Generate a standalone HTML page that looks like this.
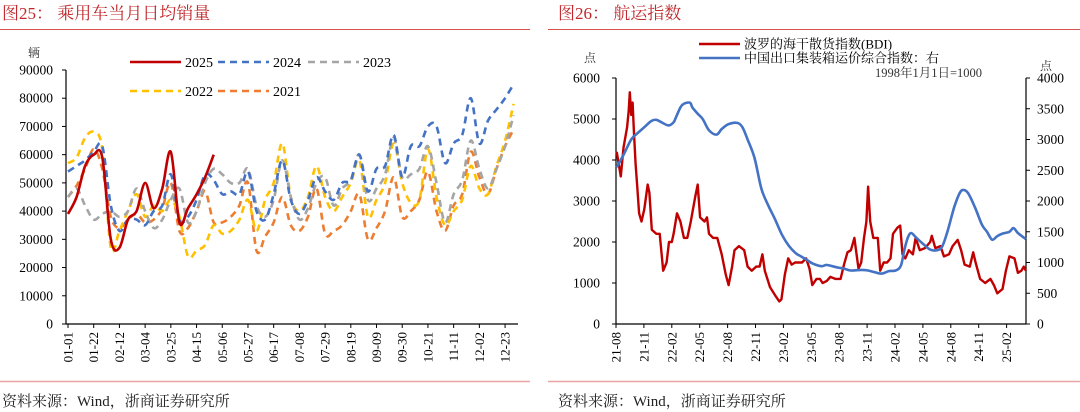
<!DOCTYPE html>
<html><head><meta charset="utf-8">
<style>
html,body{margin:0;padding:0;background:#fff;}
svg{display:block;font-family:"Liberation Serif","Noto Serif CJK SC",serif;}
</style></head>
<body>
<svg id="s" width="1080" height="412" viewBox="0 0 1080 412" xmlns="http://www.w3.org/2000/svg">
<text x="2" y="19" font-size="17" fill="#c0282d">图25：  乘用车当月日均销量</text>
<line x1="0" y1="29.5" x2="530" y2="29.5" stroke="#d9544f" stroke-width="1"/>
<text x="558" y="19" font-size="17" fill="#c0282d">图26：  航运指数</text>
<line x1="548" y1="29.5" x2="1080" y2="29.5" stroke="#d9544f" stroke-width="1"/>
<line x1="0" y1="381.5" x2="530" y2="381.5" stroke="#eba3a3" stroke-width="1.5"/>
<line x1="548" y1="381.5" x2="1080" y2="381.5" stroke="#eba3a3" stroke-width="1.5"/>
<text x="2" y="406" font-size="15" fill="#222">资料来源：Wind，浙商证券研究所</text>
<text x="558" y="406" font-size="15" fill="#222">资料来源：Wind，浙商证券研究所</text>
<g id="L"></g>
<g id="R"></g>
</svg>
<script>
// ---- Left chart data (daily average passenger car sales, weekly) ----
const weekLabels=["01-01","01-22","02-12","03-04","03-25","04-15","05-06","05-27","06-17","07-08","07-29","08-19","09-09","09-30","10-21","11-11","12-02","12-23"];
const leftTicks=[0,10000,20000,30000,40000,50000,60000,70000,80000,90000];
const s2025=[39,45,56,60,59,30,27,37,40,50,41,48,61,36,41,46,52,60];
const s2024=[54,56,58,61,63,42,33,37,37,35,40,42,53,37,38,44,53,51,46,47,46,54,40,37,46,58,44,39,44,52,47,44,50,51,60,47,55,56,67,52,63,63,70,70,57,64,67,80,64,72,76,80,85];
const s2023=[45,48,42,37,39,40,38,40,48,40,34,37,44,48,36,40,50,55,53,50,50,55,42,38,44,58,45,37,41,50,52,42,48,51,60,44,48,53,66,52,53,55,63,50,36,46,51,65,55,48,55,63,74];
const s2022=[57,59,66,68,62,27,33,40,46,38,42,40,44,38,24,26,28,35,32,33,37,44,33,44,50,64,45,40,45,56,45,40,45,50,58,38,44,50,64,50,43,44,62,45,35,40,44,56,48,46,56,65,78];
const s2021=[45,49,55,62,55,38,34,37,39,36,37,41,50,33,34,40,47,36,36,38,42,50,26,31,36,45,35,33,38,48,32,33,35,40,46,30,34,40,52,38,40,44,54,40,33,42,46,61,52,46,55,63,69];

// ---- Right chart data (t = months since 2021-08) ----
const monthLabels=["21-08","21-11","22-02","22-05","22-08","22-11","23-02","23-05","23-08","23-11","24-02","24-05","24-08","24-11","25-02"];
const leftTicksR=[0,1000,2000,3000,4000,5000,6000];
const rightTicksR=[0,500,1000,1500,2000,2500,3000,3500,4000];
const bdiT=[0.07,0.52,0.81,1.19,1.37,1.48,1.63,1.78,1.93,2.11,2.3,2.48,2.74,3.04,3.41,3.59,3.85,4.33,4.7,5.07,5.44,5.7,6.0,6.19,6.56,6.93,7.3,7.67,8.04,8.52,8.78,9.04,9.52,9.78,10.0,10.44,10.89,11.37,11.81,12.11,12.48,12.74,13.22,13.78,14.15,14.59,15.07,15.44,15.74,16.0,16.56,17.11,17.56,17.78,18.15,18.52,18.89,19.26,19.63,20.0,20.44,20.81,21.11,21.56,21.93,22.22,22.67,23.04,23.59,24.15,24.52,24.89,25.26,25.63,25.81,26.07,26.37,26.67,26.93,27.11,27.33,27.67,28.15,28.41,28.78,29.15,29.52,29.78,30.26,30.56,30.81,31.11,31.48,31.93,32.22,32.67,33.22,33.78,33.96,34.33,34.89,35.26,35.81,36.19,36.74,37.11,37.48,38.04,38.41,38.67,39.15,39.7,40.26,40.63,41.0,41.56,41.93,42.3,42.85,43.22,43.59,43.85,44.07];
const bdiV=[4200,3600,4300,4800,5200,5650,5100,5400,4700,3900,3300,2700,2500,2800,3400,3200,2300,2200,2200,1300,1500,2000,2000,2200,2700,2500,2100,2100,2500,3100,3400,2600,2500,2600,2200,2100,2100,1700,1200,950,1400,1800,1900,1800,1400,1300,1400,1400,1700,1300,900,700,550,600,1200,1600,1450,1500,1500,1500,1600,1350,950,1100,1100,1000,1050,1150,1100,1100,1450,1750,1800,2100,1800,1350,1500,2100,2500,3350,2500,2100,2100,1300,1500,1500,1600,2200,2350,2400,1700,1600,1800,1700,2100,1800,1850,2000,2150,1850,1900,1650,1700,1900,2050,1800,1450,1400,1750,1500,1100,1000,1100,950,750,850,1300,1650,1600,1250,1300,1400,1300];
const ccfiT=[0.07,0.81,1.63,2.3,3.04,3.78,4.33,4.89,5.63,6.19,6.56,7.11,7.93,8.22,8.78,9.33,10,10.81,11.37,12.11,13.04,13.59,14.15,14.89,15.63,16.37,17.11,17.85,18.59,19.33,19.89,20.44,21.19,22.11,22.67,23.78,24.52,25.26,26.37,27.11,27.85,28.59,29.33,30.07,30.63,31,31.37,31.74,32.3,33.04,33.78,34.52,35.07,35.63,36.37,36.93,37.3,37.85,38.59,39.33,39.89,40.44,41,41.56,42.3,42.74,43.22,44.07];
const ccfiV=[2550,2750,3000,3100,3200,3300,3320,3280,3230,3280,3400,3560,3600,3520,3420,3330,3150,3080,3170,3250,3270,3200,3000,2700,2200,1930,1700,1450,1270,1150,1100,1050,980,940,960,920,900,870,880,870,840,820,860,870,950,1200,1400,1480,1400,1300,1210,1200,1260,1500,1900,2120,2180,2130,1900,1620,1500,1370,1430,1470,1500,1560,1480,1380];

const NS="http://www.w3.org/2000/svg";
function mk(parent,tag,attrs,text){const e=document.createElementNS(NS,tag);for(const k in attrs)e.setAttribute(k,attrs[k]);if(text!==undefined)e.textContent=text;parent.appendChild(e);return e;}
function smooth(pts){if(pts.length<2)return"";let d="M"+pts[0][0].toFixed(1)+","+pts[0][1].toFixed(1);for(let i=0;i<pts.length-1;i++){const p0=pts[i-1]||pts[i],p1=pts[i],p2=pts[i+1],p3=pts[i+2]||p2;const c1x=p1[0]+(p2[0]-p0[0])/6,c1y=p1[1]+(p2[1]-p0[1])/6,c2x=p2[0]-(p3[0]-p1[0])/6,c2y=p2[1]-(p3[1]-p1[1])/6;d+=" C"+c1x.toFixed(1)+","+c1y.toFixed(1)+" "+c2x.toFixed(1)+","+c2y.toFixed(1)+" "+p2[0].toFixed(1)+","+p2[1].toFixed(1);}return d;}
function poly(pts){return "M"+pts.map(p=>p[0].toFixed(1)+","+p[1].toFixed(1)).join(" L");}

// ---- Left chart ----
const L=document.getElementById('L');
const lx0=66,lwk=8.57,ly0=324,ly1=70,lmax=90000;
const lX=w=>lx0+2+w*lwk;
const lY=v=>ly0-(v/lmax)*(ly0-ly1);
let e;
e=mk(L,'line',{x1:lx0,y1:ly1,x2:lx0,y2:ly0,stroke:'#000','stroke-width':1.2});


e=mk(L,'line',{x1:lx0,y1:ly0,x2:518,y2:ly0,stroke:'#000','stroke-width':1.2});


leftTicks.forEach(v=>{const y=lY(v);
 e=mk(L,'line',{x1:lx0-4,y1:y,x2:lx0,y2:y,stroke:'#000'});
 
 
 e=mk(L,'text',{x:lx0-13,y:y+4.5,'font-size':13.5,'text-anchor':'end',fill:'#000'},String(v));
 
 
});
weekLabels.forEach((lab,i)=>{const x=lX(i*3);
 e=mk(L,'line',{x1:x,y1:ly0,x2:x,y2:ly0+4,stroke:'#000'});
 
 
 e=mk(L,'text',{x:0,y:0,'font-size':13,'text-anchor':'end',transform:`translate(${x+4.5},${ly0+8}) rotate(-90)`},lab);
 
 
});
e=mk(L,'text',{x:28,y:57,'font-size':12,fill:'#333'},'辆');


const lseries=[
 {d:s2021,c:'#ed7d31',dash:'7,5',n:'series-2021'},
 {d:s2022,c:'#ffc000',dash:'7,5',n:'series-2022'},
 {d:s2023,c:'#a5a5a5',dash:'7,5',n:'series-2023'},
 {d:s2024,c:'#4472c4',dash:'7,5',n:'series-2024'},
 {d:s2025,c:'#c00000',dash:'',n:'series-2025'}];
lseries.forEach(s=>{const pts=s.d.map((v,i)=>[lX(i),lY(v*1000)]);
 e=mk(L,'path',{d:smooth(pts),fill:'none',stroke:s.c,'stroke-width':2.6,'stroke-dasharray':s.dash});
 
 
});
const leg=[[130,62,'#c00000','','2025'],[218,62,'#4472c4','7,5','2024'],[308,62,'#a5a5a5','7,5','2023'],[130,91,'#ffc000','7,5','2022'],[218,91,'#ed7d31','7,5','2021']];
leg.forEach(l=>{
 e=mk(L,'line',{x1:l[0],y1:l[1],x2:l[0]+51,y2:l[1],stroke:l[2],'stroke-width':2.6,'stroke-dasharray':l[3]});
 
 
 e=mk(L,'text',{x:l[0]+55,y:l[1]+5,'font-size':14},l[4]);
 
 
});

// ---- Right chart ----
const R=document.getElementById('R');
const rx0=616,rx1=1026,rmo=9.3,ry0=324,ry1=78;
const rX=t=>rx0+t*rmo;
const rYL=v=>ry0-(v/6000)*(ry0-ry1);
const rYR=v=>ry0-(v/4000)*(ry0-ry1);
e=mk(R,'line',{x1:rx0,y1:ry1,x2:rx0,y2:ry0,stroke:'#000','stroke-width':1.2});


e=mk(R,'line',{x1:rx1,y1:ry1,x2:rx1,y2:ry0,stroke:'#000','stroke-width':1.2});


e=mk(R,'line',{x1:rx0,y1:ry0,x2:rx1,y2:ry0,stroke:'#000','stroke-width':1.2});


leftTicksR.forEach(v=>{const y=rYL(v);
 e=mk(R,'line',{x1:rx0-4,y1:y,x2:rx0,y2:y,stroke:'#000'});
 
 
 e=mk(R,'text',{x:rx0-16,y:y+4.5,'font-size':13.5,'text-anchor':'end'},String(v));
 
 
});
rightTicksR.forEach(v=>{const y=rYR(v);
 e=mk(R,'line',{x1:rx1,y1:y,x2:rx1+4,y2:y,stroke:'#000'});
 
 
 e=mk(R,'text',{x:rx1+11,y:y+4.5,'font-size':13.5},String(v));
 
 
});
monthLabels.forEach((lab,i)=>{const x=rX(i*3);
 e=mk(R,'line',{x1:x,y1:ry0,x2:x,y2:ry0+4,stroke:'#000'});
 
 
 e=mk(R,'text',{x:0,y:0,'font-size':13,'text-anchor':'end',transform:`translate(${x+4.5},${ry0+8}) rotate(-90)`},lab);
 
 
});
e=mk(R,'text',{x:584,y:62,'font-size':12,fill:'#333'},'点');


e=mk(R,'text',{x:1040,y:70,'font-size':12,fill:'#333'},'点');


e=mk(R,'path',{d:poly(bdiT.map((t,i)=>[rX(t),rYL(bdiV[i])])),fill:'none',stroke:'#c00000','stroke-width':2.4,'stroke-linejoin':'round'});


e=mk(R,'path',{d:smooth(ccfiT.map((t,i)=>[rX(t),rYR(ccfiV[i])])),fill:'none',stroke:'#4472c4','stroke-width':2.6});


e=mk(R,'line',{x1:699,y1:44,x2:740,y2:44,stroke:'#c00000','stroke-width':2.6});


e=mk(R,'text',{x:744,y:48.5,'font-size':13},'波罗的海干散货指数(BDI)');


e=mk(R,'line',{x1:699,y1:58,x2:740,y2:58,stroke:'#4472c4','stroke-width':2.6});


e=mk(R,'text',{x:744,y:62.5,'font-size':13},'中国出口集装箱运价综合指数：右');


e=mk(R,'text',{x:982,y:77,'font-size':12.5,'text-anchor':'end',fill:'#333'},'1998年1月1日=1000');


</script>
</body></html>
